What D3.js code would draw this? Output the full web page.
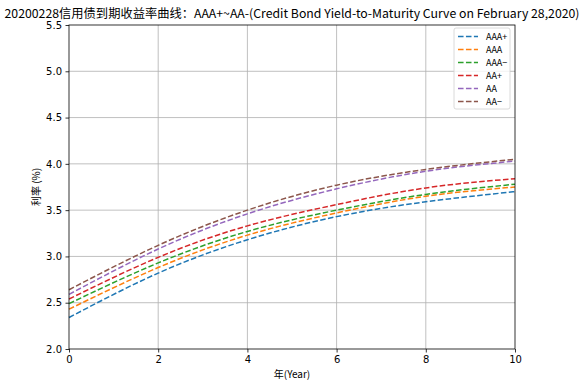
<!DOCTYPE html>
<meta charset="utf-8">
<style>
body { margin: 0; background: #fff; }
text { fill: #000; }
.tick text { font: 10px "DejaVu Sans", sans-serif; }
.cjk { font-family: "Noto Sans CJK SC", sans-serif; }
</style>
<svg width="584" height="385"></svg>
<script src="https://d3js.org/d3.v7.min.js"></script>
<script>
// tenor in years and yields (%)
var years = [0, 2, 4, 6, 8, 10];
var ratings = ["AAA+", "AAA", "AAA−", "AA+", "AA", "AA−"];
var aaaPlus  = [2.34, 2.82, 3.18, 3.43, 3.59, 3.70];
var aaa      = [2.43, 2.88, 3.23, 3.47, 3.65, 3.75];
var aaaMinus = [2.49, 2.93, 3.27, 3.50, 3.67, 3.78];
var aaPlus   = [2.54, 2.99, 3.33, 3.56, 3.74, 3.84];
var aa       = [2.59, 3.08, 3.46, 3.73, 3.92, 4.03];
var aaMinus  = [2.64, 3.12, 3.50, 3.77, 3.94, 4.05];
var xTicks = [0, 2, 4, 6, 8, 10];
var yTicks = [2.0, 2.5, 3.0, 3.5, 4.0, 4.5, 5.0, 5.5];

var series = [aaaPlus, aaa, aaaMinus, aaPlus, aa, aaMinus];
var colors = ["#1f77b4", "#ff7f0e", "#2ca02c", "#d62728", "#9467bd", "#8c564b"];

var svg = d3.select("svg"),
    margin = {top: 25, right: 69, bottom: 36, left: 69},
    width = 584 - margin.left - margin.right,
    height = 385 - margin.top - margin.bottom,
    g = svg.append("g").attr("transform", "translate(" + margin.left + "," + margin.top + ")");

var x = d3.scaleLinear().domain([0, 10]).range([0, width]);
var y = d3.scaleLinear().domain([2.0, 5.5]).range([height, 0]);

// grid
g.append("g").selectAll("line").data(xTicks.slice(1, -1)).enter().append("line")
    .attr("x1", x).attr("x2", x).attr("y1", 0).attr("y2", height)
    .attr("stroke", "#b0b0b0").attr("stroke-width", 0.8);
g.append("g").selectAll("line").data(yTicks.slice(1, -1)).enter().append("line")
    .attr("y1", y).attr("y2", y).attr("x1", 0).attr("x2", width)
    .attr("stroke", "#b0b0b0").attr("stroke-width", 0.8);

var line = d3.line()
    .x(function(d, i) { return x(years[i]); })
    .y(function(d) { return y(d); })
    .curve(d3.curveNatural);

g.selectAll(".curve").data(series).enter().append("path")
    .attr("class", "curve")
    .attr("d", line)
    .attr("fill", "none")
    .attr("stroke", function(d, i) { return colors[i]; })
    .attr("stroke-width", 1.5)
    .attr("stroke-dasharray", "5.55,2.4");

// axes
var xAxis = g.append("g").attr("transform", "translate(0," + height + ")")
    .call(d3.axisBottom(x).tickValues(xTicks).tickFormat(d3.format("d")).tickSizeInner(3.5).tickSizeOuter(0).tickPadding(3.5));
var yAxis = g.append("g")
    .call(d3.axisLeft(y).tickValues(yTicks).tickFormat(d3.format(".1f")).tickSizeInner(3.5).tickSizeOuter(0).tickPadding(3.5));
[xAxis, yAxis].forEach(function(a) {
  a.select(".domain").remove();
  a.selectAll(".tick line").attr("stroke", "#000").attr("stroke-width", 0.8);
});

g.append("rect").attr("width", width).attr("height", height)
    .attr("fill", "none").attr("stroke", "#000").attr("stroke-width", 0.8);

// title and labels
svg.append("text").attr("class", "cjk")
    .attr("x", 292).attr("y", 18).attr("text-anchor", "middle")
    .attr("font-size", 12)
    .attr("textLength", 575).attr("lengthAdjust", "spacingAndGlyphs")
    .text("20200228信用债到期收益率曲线：AAA+~AA-(Credit Bond Yield-to-Maturity Curve on February 28,2020)");

svg.append("text").attr("class", "cjk")
    .attr("x", 292).attr("y", 378).attr("text-anchor", "middle")
    .attr("font-size", 10)
    .text("年(Year)");

svg.append("text").attr("class", "cjk")
    .attr("transform", "translate(40," + (margin.top + height / 2) + ") rotate(-90)")
    .attr("text-anchor", "middle").attr("font-size", 10)
    .text("利率 (%)");

// legend
var legend = svg.append("g").attr("transform", "translate(454,28)");
legend.append("rect").attr("width", 56).attr("height", 81).attr("rx", 2)
    .attr("fill", "#fff").attr("fill-opacity", 0.8)
    .attr("stroke", "#d0d0d0").attr("stroke-width", 0.8);
var item = legend.selectAll(".item").data(ratings).enter().append("g")
    .attr("transform", function(d, i) { return "translate(0," + (8.5 + i * 13) + ")"; });
item.append("line").attr("x1", 4).attr("x2", 24)
    .attr("stroke", function(d, i) { return colors[i]; })
    .attr("stroke-width", 1.5).attr("stroke-dasharray", "5.55,2.4");
item.append("text").attr("class", "cjk").attr("x", 32).attr("y", 3.5)
    .attr("font-size", 9).text(function(d) { return d; });
</script>
